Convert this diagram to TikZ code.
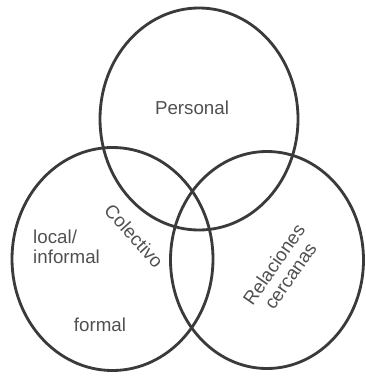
\documentclass[tikz,border=0pt]{standalone}
\usepackage{fontspec}
\setmainfont{Liberation Sans}
\usepackage{tikz}

\definecolor{ringgray}{HTML}{3A3A3A}
\definecolor{labelgray}{HTML}{505050}

\begin{document}
\begin{tikzpicture}[x=0.03cm,y=-0.03cm,
  ring/.style={draw=ringgray,line width=2.4pt},
  lbl/.style={text=labelgray,font=\fontsize{16}{17}\selectfont,inner sep=0pt}]
\useasboundingbox (0,0) rectangle (365,376);
\draw[ring] (199,119) ellipse (99 and 111);
\draw[ring] (112.5,259) ellipse (100.5 and 111.5);
\draw[ring] (267,260) ellipse (96.5 and 108.5);
\node[lbl] (personal) at (192,108) {Personal};
\node[lbl,align=left,anchor=west] (local) at (33,247) {local/\\informal};
\node[lbl] (formal) at (100,325) {formal};
\node[lbl,rotate=-48] (colectivo) at (134,236) {Colectivo};
\node[lbl,rotate=55,align=center] (cercanas) at (282,270) {Relaciones\\cercanas};
\end{tikzpicture}
\end{document}
